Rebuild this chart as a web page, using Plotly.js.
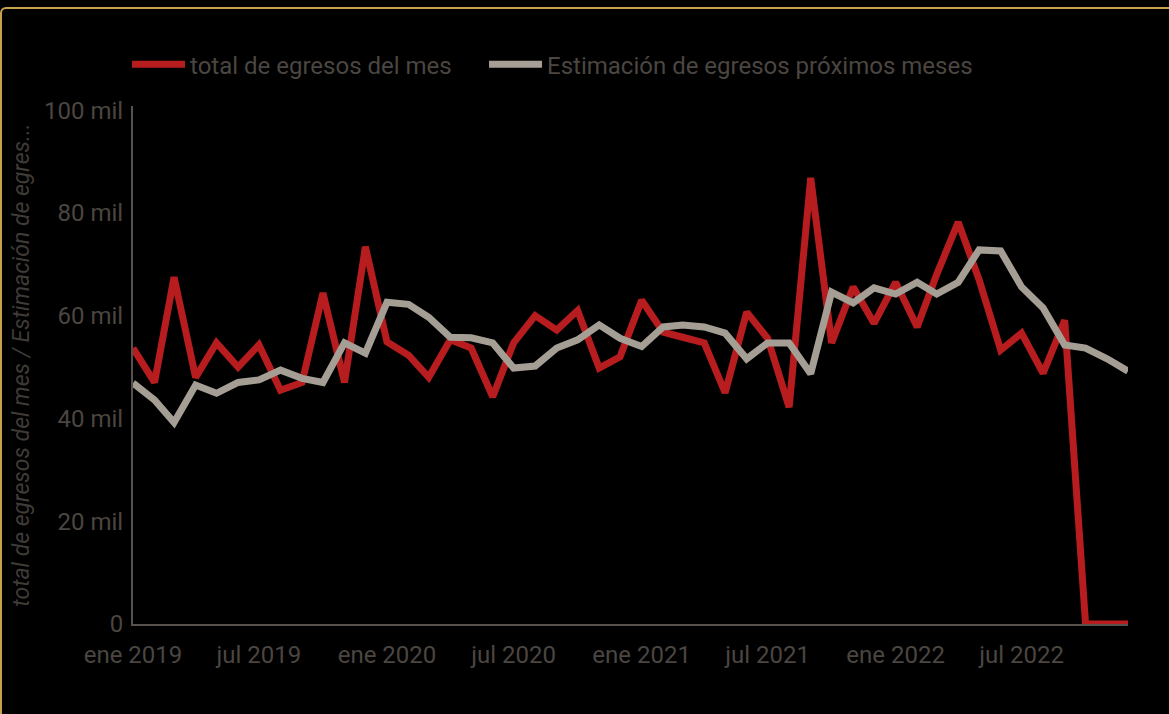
<!DOCTYPE html>
<html>
<head>
<meta charset="utf-8">
<script src="https://cdn.plot.ly/plotly-3.0.1.min.js"></script>
<style>
  html, body { margin: 0; padding: 0; background: #000; overflow: hidden; }
  #chart { width: 1169px; height: 714px; }
  #frame { position: absolute; left: 0; top: 7px; width: 1180px; height: 720px;
           border-top: 2px solid #c9a14e; border-left: 2px solid #c9a14e;
           border-top-left-radius: 6px; pointer-events: none; box-sizing: border-box; }
</style>
</head>
<body>
<div id="chart"></div>
<div id="frame"></div>
<script>
const months = [
  '2019-01-01','2019-02-01','2019-03-01','2019-04-01','2019-05-01','2019-06-01',
  '2019-07-01','2019-08-01','2019-09-01','2019-10-01','2019-11-01','2019-12-01',
  '2020-01-01','2020-02-01','2020-03-01','2020-04-01','2020-05-01','2020-06-01',
  '2020-07-01','2020-08-01','2020-09-01','2020-10-01','2020-11-01','2020-12-01',
  '2021-01-01','2021-02-01','2021-03-01','2021-04-01','2021-05-01','2021-06-01',
  '2021-07-01','2021-08-01','2021-09-01','2021-10-01','2021-11-01','2021-12-01',
  '2022-01-01','2022-02-01','2022-03-01','2022-04-01','2022-05-01','2022-06-01',
  '2022-07-01','2022-08-01','2022-09-01','2022-10-01','2022-11-01','2022-12-01'
];

// total de egresos del mes (miles)
const totalEgresos = [
  53.7, 47.0, 67.5, 48.0, 54.7, 50.0, 54.3, 45.5, 47.0, 64.4, 47.0, 73.4,
  54.9, 52.3, 48.0, 55.3, 53.7, 44.2, 54.7, 60.0, 57.2, 61.0, 49.8, 52.0,
  63.0, 56.8, 55.8, 54.7, 45.0, 60.7, 55.6, 42.2, 86.8, 54.7, 65.6, 58.5,
  66.5, 57.8, 68.0, 78.2, 67.0, 53.3, 56.6, 48.8, 59.1, 0, 0, 0
];

// Estimación de egresos próximos meses (miles)
const estimacionEgresos = [
  46.9, 43.6, 39.2, 46.5, 44.9, 47.0, 47.5, 49.4, 47.8, 47.0, 54.7, 52.7,
  62.6, 62.2, 59.7, 55.8, 55.7, 54.7, 49.8, 50.2, 53.7, 55.3, 58.2, 55.6,
  54.0, 57.8, 58.2, 57.8, 56.6, 51.6, 54.7, 54.7, 48.7, 64.6, 62.5, 65.4,
  64.2, 66.5, 64.2, 66.5, 72.8, 72.6, 65.6, 61.5, 54.3, 53.7, 51.6, 49.2
];

const xTickVals = ['2019-01-01','2019-07-01','2020-01-01','2020-07-01','2021-01-01','2021-07-01','2022-01-01','2022-07-01'];
const xTickText = ['ene 2019','jul 2019','ene 2020','jul 2020','ene 2021','jul 2021','ene 2022','jul 2022'];
const yTickVals = [0, 20, 40, 60, 80, 100];
const yTickText = ['0', '20 mil', '40 mil', '60 mil', '80 mil', '100 mil'];

const textColor = '#4b4641';
const fontFam = 'Roboto, "Open Sans", sans-serif';

const traces = [
  {
    x: months, y: totalEgresos, type: 'scatter', mode: 'lines',
    name: 'total de egresos del mes', legend: 'legend',
    line: { color: '#b71c1f', width: 7 }
  },
  {
    x: months, y: estimacionEgresos, type: 'scatter', mode: 'lines',
    name: 'Estimación de egresos próximos meses', legend: 'legend2',
    line: { color: '#a59e94', width: 7 }
  }
];

const legendBase = {
  orientation: 'h', xanchor: 'left', y: 1.08, yanchor: 'middle',
  font: { family: fontFam, size: 24, color: textColor },
  bgcolor: 'rgba(0,0,0,0)', itemwidth: 53
};

const layout = {
  width: 1169, height: 714,
  paper_bgcolor: '#000', plot_bgcolor: '#000',
  margin: { l: 133, r: 41, t: 106, b: 90 },
  font: { family: fontFam, color: textColor, size: 24 },
  showlegend: true,
  legend: Object.assign({}, legendBase, { x: -0.006 }),
  legend2: Object.assign({}, legendBase, { x: 0.3528 }),
  xaxis: {
    type: 'date',
    range: ['2019-01-01', '2022-12-01'],
    tickvals: xTickVals, ticktext: xTickText,
    showgrid: false, zeroline: false,
    showline: true, linecolor: '#57524d', linewidth: 2,
    ticks: '', ticklabelstandoff: 8,
    tickfont: { family: fontFam, size: 24, color: textColor },
    fixedrange: true
  },
  yaxis: {
    range: [0, 100.8],
    tickvals: yTickVals, ticktext: yTickText,
    showgrid: false, zeroline: false,
    showline: true, linecolor: '#57524d', linewidth: 2,
    ticks: '', ticklabelstandoff: 3,
    tickfont: { family: fontFam, size: 24, color: textColor },
    title: {
      text: 'total de egresos del mes / Estimación de egres...',
      font: { family: fontFam, size: 23, color: '#3f3b37', style: 'italic' },
      standoff: 8
    },
    fixedrange: true
  }
};

Plotly.newPlot('chart', traces, layout, { displayModeBar: false, staticPlot: true });
</script>
</body>
</html>
